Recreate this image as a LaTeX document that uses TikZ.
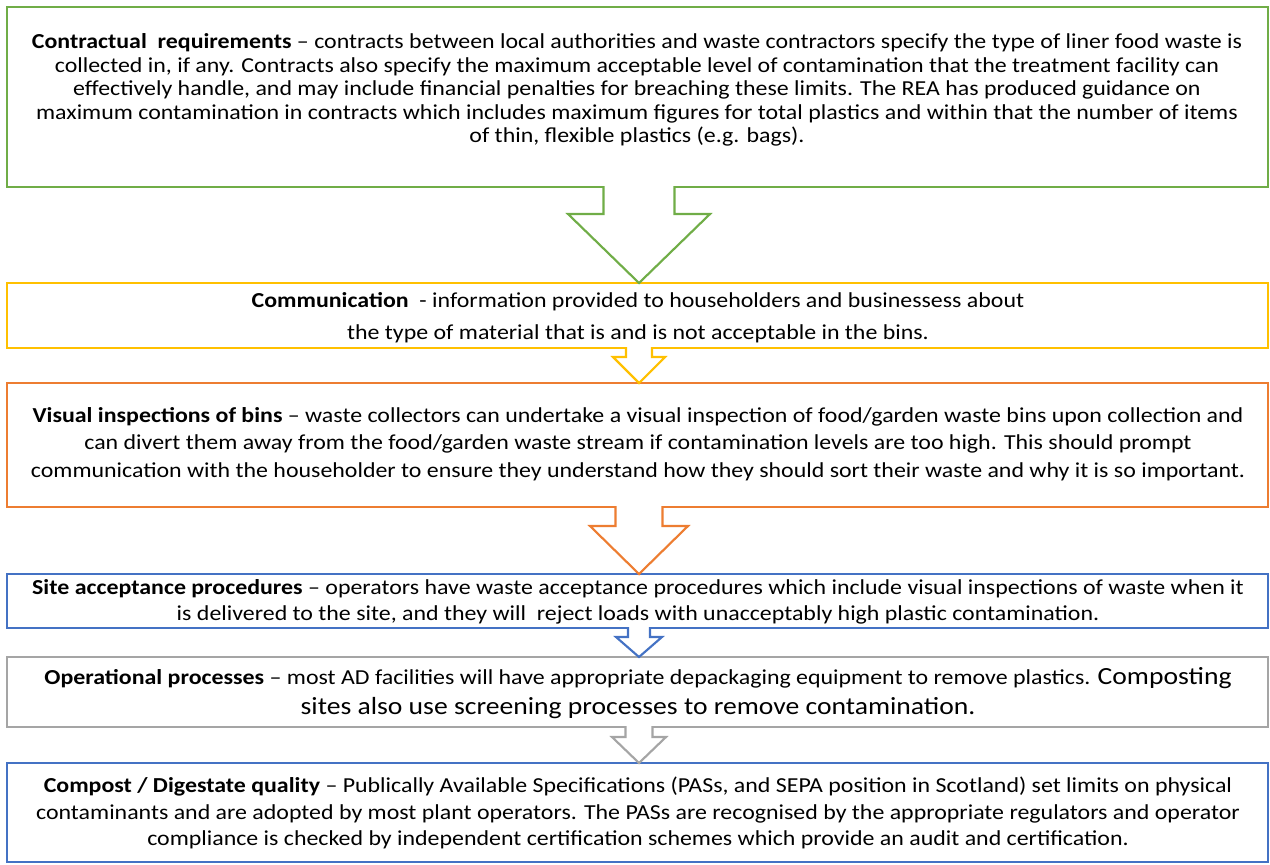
\documentclass[tikz,border=0pt]{standalone}
\usepackage{fontspec}
\setmainfont{Carlito}[FakeStretch=1.12]
\usetikzlibrary{calc}
\definecolor{cgreen}{HTML}{70AD47}
\definecolor{cyellow}{HTML}{FFC000}
\definecolor{corange}{HTML}{ED7D31}
\definecolor{cblue}{HTML}{4472C4}
\definecolor{cgray}{HTML}{A5A5A5}
\newcommand\blockarr[7]{%
  % #1 from node, #2 to node, #3 colour, #4 half shaft, #5 shoulder depth, #6 half head
  \fill[white] ($(#1.south)+(1.5-#4,-3)$) -- ($(#1.south)+(1.5-#4,#5)$) -- ($(#1.south)+(1.5-#6,#5)$)
     -- ($(#2.north)+(1.5,0)$) -- ($(#1.south)+(1.5+#6,#5)$) -- ($(#1.south)+(1.5+#4,#5)$)
     -- ($(#1.south)+(1.5+#4,-3)$) -- cycle;
  \draw[#3, arr] ($(#1.south)+(1.5-#4,-1)$) -- ($(#1.south)+(1.5-#4,#5)$) -- ($(#1.south)+(1.5-#6,#5)$)
     -- ($(#2.north)+(1.5,0)$) -- ($(#1.south)+(1.5+#6,#5)$) -- ($(#1.south)+(1.5+#4,#5)$)
     -- ($(#1.south)+(1.5+#4,-1)$);
}
\begin{document}
\begin{tikzpicture}[x=0.75pt,y=-0.75pt,
  box/.style={draw, line width=1.6pt, fill=white, anchor=north west, outer sep=0pt, inner sep=0pt, minimum width=945.75pt},
  arr/.style={line width=1.6pt, line join=miter},
  txt/.style={align=center, inner sep=0pt, font=\fontsize{16}{17.6}\selectfont}]
\useasboundingbox (0,0) rectangle (1270,864);
% boxes
\node[box, draw=cgreen,  minimum height=135pt]   (g) at (7,7) {};
\node[box, draw=cyellow, minimum height=48.75pt] (y) at (7,283) {};
\node[box, draw=corange, minimum height=93pt]    (o) at (7,383) {};
\node[box, draw=cblue,   minimum height=40.5pt]  (b) at (7,574) {};
\node[box, draw=cgray,   minimum height=52.5pt]  (r) at (7,657) {};
\node[box, draw=cblue,   minimum height=74.25pt] (c) at (7,763) {};
% arrows
\blockarr{g}{y}{cgreen}{35.5}{27}{71}{}
\blockarr{y}{o}{cyellow}{13}{9}{26}{}
\blockarr{o}{b}{corange}{23.5}{19}{49}{}
\blockarr{b}{r}{cblue}{11}{9}{23}{}
\blockarr{r}{c}{cgray}{13.5}{10}{27}{}
% texts
\node[txt] (gt) at (637,90) {\textbf{Contractual\ \ requirements} – contracts between local authorities and waste contractors specify the type of liner food waste is\\
collected in, if any. Contracts also specify the maximum acceptable level of contamination that the treatment facility can\\
effectively handle, and may include financial penalties for breaching these limits. The REA has produced guidance on\\
maximum contamination in contracts which includes maximum figures for total plastics and within that the number of items\\
of thin, flexible plastics (e.g. bags).};
\node[txt, font=\fontsize{16}{24}\selectfont] (yt) at (638,318) {\textbf{Communication}\ \ - information provided to householders and businessess about\\
the type of material that is and is not acceptable in the bins.};
\node[txt, font=\fontsize{16}{20.5}\selectfont] (ot) at (638,444) {\textbf{Visual inspections of bins} – waste collectors can undertake a visual inspection of food/garden waste bins upon collection and\\
can divert them away from the food/garden waste stream if contamination levels are too high. This should prompt\\
communication with the householder to ensure they understand how they should sort their waste and why it is so important.};
\node[txt, font=\fontsize{16}{19.5}\selectfont] (bt) at (638,602) {\textbf{Site acceptance procedures} – operators have waste acceptance procedures which include visual inspections of waste when it\\
is delivered to the site, and they will\ \ reject loads with unacceptably high plastic contamination.};
\node[txt, font=\fontsize{16}{22.5}\selectfont] (rt) at (638,693) {\textbf{Operational processes} – most AD facilities will have appropriate depackaging equipment to remove plastics. {\fontsize{18.5}{21}\selectfont Composting}\\
{\fontsize{18.5}{21}\selectfont sites also use screening processes to remove contamination.}};
\node[txt, font=\fontsize{16}{20}\selectfont] (ct) at (638,813) {\textbf{Compost / Digestate quality} – Publically Available Specifications (PASs, and SEPA position in Scotland) set limits on physical\\
contaminants and are adopted by most plant operators. The PASs are recognised by the appropriate regulators and operator\\
compliance is checked by independent certification schemes which provide an audit and certification.};
\end{tikzpicture}
\end{document}
